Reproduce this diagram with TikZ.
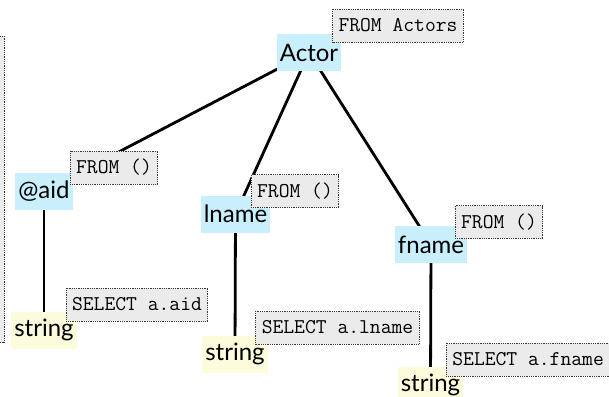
\documentclass[tikz,border=0pt]{standalone}
\usepackage{fontspec}
\usepackage{tikz}
\usetikzlibrary{backgrounds}
\newfontfamily\treefont{Lato}
\definecolor{elemblue}{HTML}{C9EEFC}
\definecolor{leafyellow}{HTML}{FCFBDC}
\definecolor{notegray}{HTML}{EBEBEB}
\definecolor{notedots}{HTML}{3A3A3A}

\begin{document}
\begin{tikzpicture}[x=1bp,y=-1bp,
  elem/.style={fill=elemblue,inner xsep=3bp,inner ysep=0pt,minimum height=37bp,
    font=\treefont\fontsize{24bp}{26bp}\selectfont},
  leaf/.style={elem,fill=leafyellow},
  note/.style={fill=notegray,draw=notedots,line width=.8bp,dash pattern=on .9bp off .9bp,
    inner xsep=6bp,inner ysep=0pt,minimum height=33bp,
    font=\ttfamily\fontsize{21bp}{23bp}\selectfont},
  edge/.style={line width=2.8bp}]
  \useasboundingbox (0,0) rectangle (609,396);
  \clip (0,0) rectangle (609,396);
  % query box running in from the left
  \draw[fill=notegray,draw=notedots,line width=.8bp,dash pattern=on .9bp off .9bp]
    (-20,36) rectangle (4,342);
  % element tree
  \node[elem] (actor) at (309,52.5) {Actor};
  \node[elem] (aid) at (44,191) {@aid};
  \node[elem] (lname) at (235.5,214) {lname};
  \node[elem] (fname) at (431,244.5) {fname};
  \node[leaf] (aidstr) at (44,330) {string};
  \node[leaf] (lnamestr) at (235,354) {string};
  \node[leaf] (fnamestr) at (430.5,385) {string};
  % query fragments
  \node[note] (fromactors) at (398,25.5) {FROM Actors};
  \node[note] (fromaid) at (114,167.5) {FROM ()};
  \node[note] (fromlname) at (295,191) {FROM ()};
  \node[note] (fromfname) at (499,222) {FROM ()};
  \node[note] (selaid) at (137,304.5) {SELECT a.aid};
  \node[note] (sellname) at (337.5,327.5) {SELECT a.lname};
  \node[note,anchor=west] (selfname) at (446,359.5) {SELECT a.fname};
  \begin{scope}[on background layer]
    \draw[edge] (actor.center) -- (aid.center);
    \draw[edge] (actor.center) -- (lname.center);
    \draw[edge] (actor.center) -- (fname.center);
    \draw[edge] (aid.center) -- (aidstr.center);
    \draw[edge] (lname.center) -- (lnamestr.center);
    \draw[edge] (fname.center) -- (fnamestr.center);
  \end{scope}
\end{tikzpicture}
\end{document}
